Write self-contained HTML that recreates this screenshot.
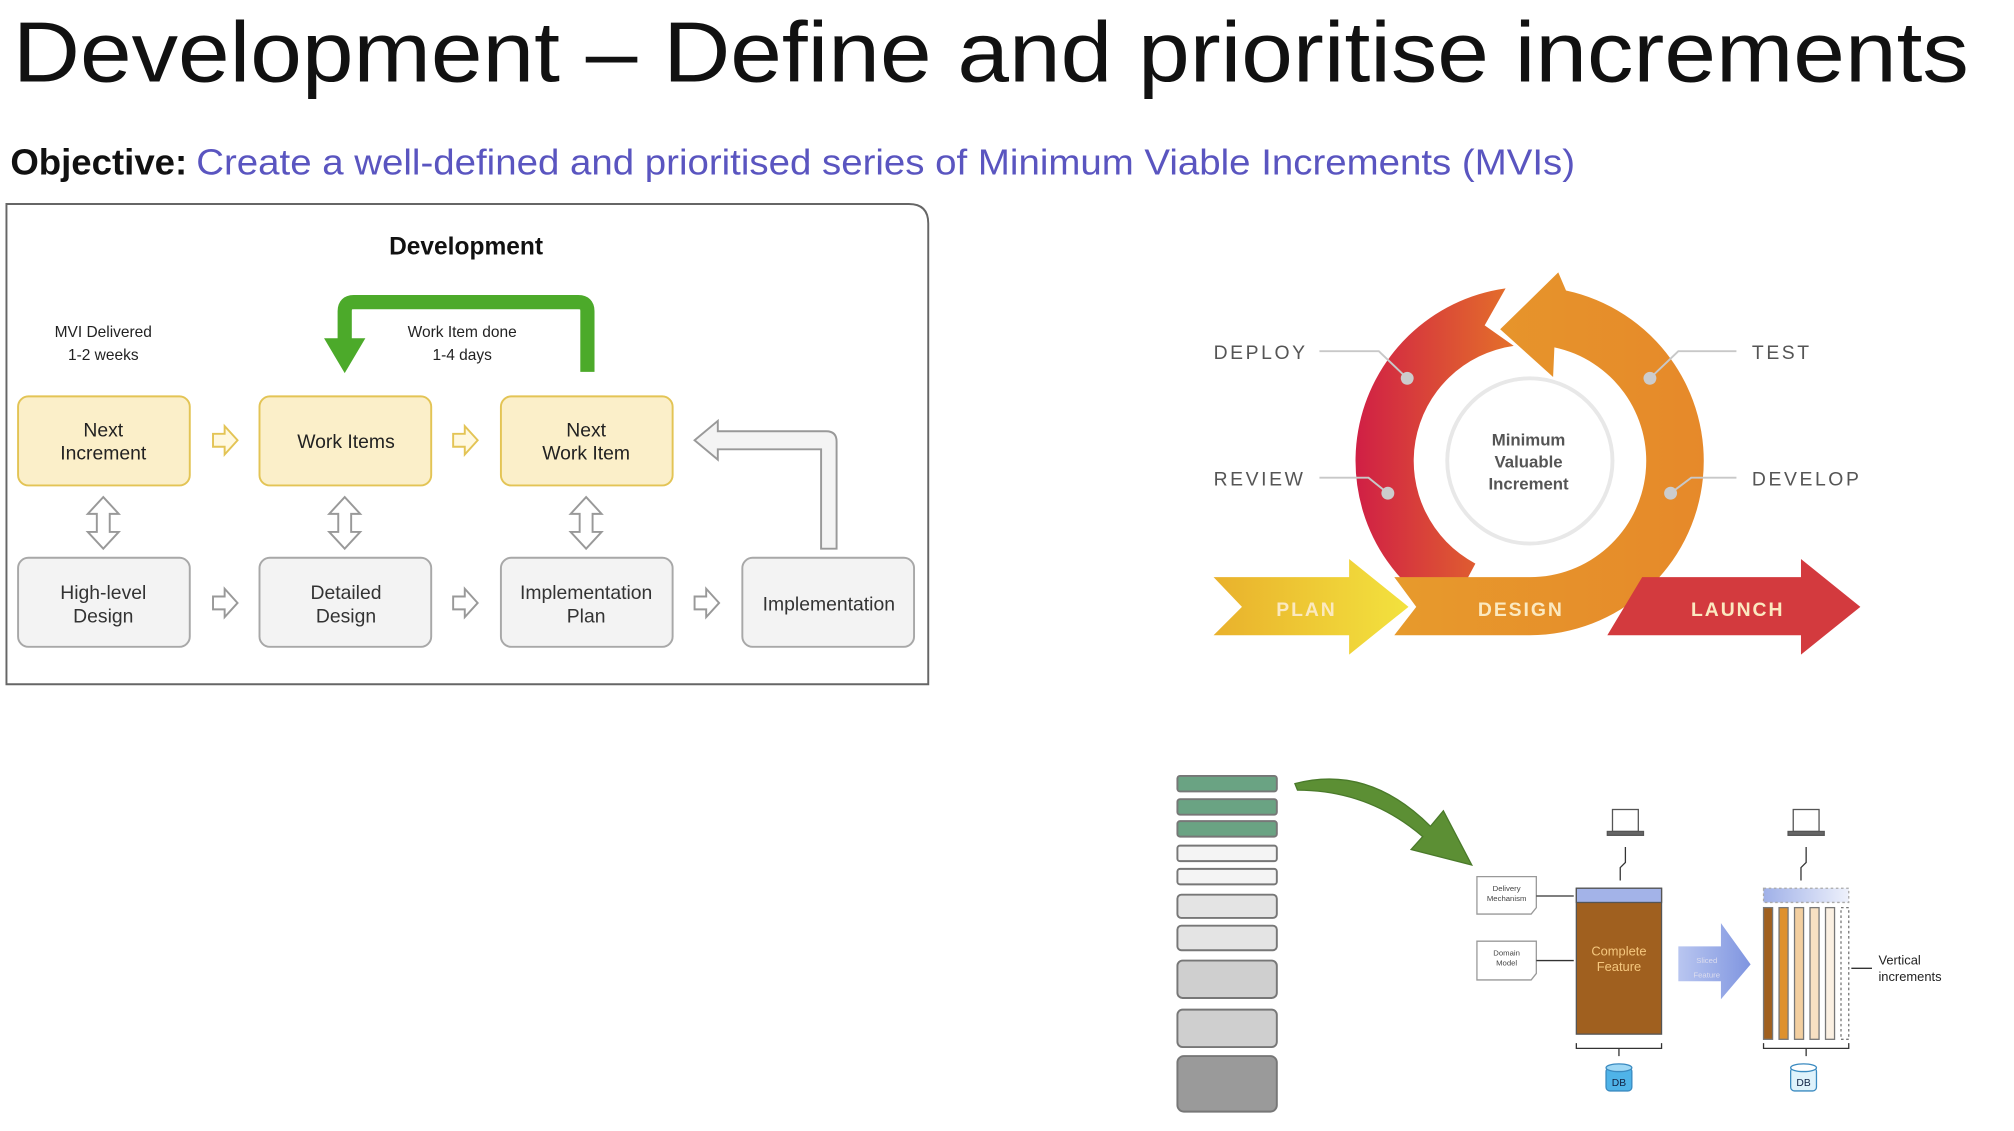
<!DOCTYPE html>
<html><head><meta charset="utf-8"><style>
html,body{margin:0;padding:0;background:#fff;}
svg{display:block;}
text{font-family:"Liberation Sans",sans-serif;}
</style></head><body>
<svg width="2014" height="1131" viewBox="0 0 1560 876" xmlns="http://www.w3.org/2000/svg">
<defs>
<linearGradient id="gl" x1="0" y1="0" x2="1" y2="0"><stop offset="0" stop-color="#d01f45"/><stop offset="1" stop-color="#e4702a"/></linearGradient>
<linearGradient id="gr" x1="0" y1="0" x2="1" y2="0"><stop offset="0" stop-color="#e79a2c"/><stop offset="1" stop-color="#e6892a"/></linearGradient>
<linearGradient id="gp" x1="0" y1="0" x2="1" y2="0"><stop offset="0" stop-color="#e9b12c"/><stop offset="1" stop-color="#f3e23e"/></linearGradient>
<linearGradient id="gb" x1="0" y1="0" x2="1" y2="0"><stop offset="0" stop-color="#9fb0e8"/><stop offset="1" stop-color="#eef1fb"/></linearGradient>
<linearGradient id="gs" x1="0" y1="0" x2="1" y2="0"><stop offset="0" stop-color="#b9c6f0"/><stop offset="1" stop-color="#7f95e0"/></linearGradient>
</defs>

<text x="10" y="63" font-size="66" fill="#111" textLength="1515" lengthAdjust="spacingAndGlyphs">Development – Define and prioritise increments</text>
<text x="8" y="135" font-size="28" font-weight="bold" fill="#111" textLength="137" lengthAdjust="spacingAndGlyphs">Objective:</text>
<text x="152" y="135" font-size="28" fill="#5a55c0" textLength="1068" lengthAdjust="spacingAndGlyphs">Create a well-defined and prioritised series of Minimum Viable Increments (MVIs)</text>

<path d="M5,158 L704,158 Q719,158 719,173 L719,530 L5,530 Z" fill="#fff" stroke="#666" stroke-width="1.5"/>
<text x="361" y="197" font-size="19" font-weight="bold" text-anchor="middle" fill="#111">Development</text>
<text x="80" y="261" font-size="12" text-anchor="middle" fill="#222">MVI Delivered</text>
<text x="80" y="279" font-size="12" text-anchor="middle" fill="#222">1-2 weeks</text>
<text x="358" y="261" font-size="12" text-anchor="middle" fill="#222">Work Item done</text>
<text x="358" y="279" font-size="12" text-anchor="middle" fill="#222">1-4 days</text>
<path d="M455,288 L455,241 Q455,234 448,234 L274,234 Q267,234 267,241 L267,264" fill="none" stroke="#4caa2a" stroke-width="11"/>
<polygon points="251,262 283,262 267,289" fill="#4caa2a"/>

<g stroke="#e3c455" stroke-width="1.5" fill="#fbefc9">
<rect x="14" y="307" width="133" height="69" rx="8"/>
<rect x="201" y="307" width="133" height="69" rx="8"/>
<rect x="388" y="307" width="133" height="69" rx="8"/>
</g>
<g stroke="#a8a8a8" stroke-width="1.5" fill="#f3f3f3">
<rect x="14" y="432" width="133" height="69" rx="8"/>
<rect x="201" y="432" width="133" height="69" rx="8"/>
<rect x="388" y="432" width="133" height="69" rx="8"/>
<rect x="575" y="432" width="133" height="69" rx="8"/>
</g>
<g font-size="15" text-anchor="middle" fill="#222">
<text x="80" y="338">Next</text><text x="80" y="356">Increment</text>
<text x="268" y="347">Work Items</text>
<text x="454" y="338">Next</text><text x="454" y="356">Work Item</text>
</g>
<g font-size="15" text-anchor="middle" fill="#333">
<text x="80" y="464">High-level</text><text x="80" y="482">Design</text>
<text x="268" y="464">Detailed</text><text x="268" y="482">Design</text>
<text x="454" y="464">Implementation</text><text x="454" y="482">Plan</text>
<text x="642" y="473">Implementation</text>
</g>
<g fill="#fff8df" stroke="#e3c455" stroke-width="1.5">
<polygon points="165,336 174,336 174,330 184,341 174,352 174,346 165,346"/>
<polygon points="351,336 360,336 360,330 370,341 360,352 360,346 351,346"/>
</g>
<g fill="#fff" stroke="#999" stroke-width="1.5">
<polygon points="165,462 174,462 174,456 184,467 174,478 174,472 165,472"/>
<polygon points="351,462 360,462 360,456 370,467 360,478 360,472 351,472"/>
<polygon points="538,462 547,462 547,456 557,467 547,478 547,472 538,472"/>
<polygon points="80,385 92,398 85,398 85,412 92,412 80,425 68,412 75,412 75,398 68,398"/>
<polygon points="267,385 279,398 272,398 272,412 279,412 267,425 255,412 262,412 262,398 255,398"/>
<polygon points="454,385 466,398 459,398 459,412 466,412 454,425 442,412 449,412 449,398 442,398"/>
<path d="M636,425 L636,348 L556,348 L556,356 L538,341 L556,326 L556,334 L640,334 Q648,334 648,342 L648,425 Z" fill="#f4f4f4"/>
</g>

<circle cx="1185" cy="357" r="64" fill="#fff" stroke="#e8e8e8" stroke-width="3"/>
<path d="M1121.6,476.2 A135,135 0 0 1 1166.2,223.3 L1150,252 L1172.5,267.9 A90,90 0 0 0 1142.8,436.5 Z" fill="url(#gl)"/>
<path d="M1213,225 L1207,211 L1162,255 L1203,292 L1204,269 A90,90 0 0 1 1185,447 L1080,447 L1097,470 L1080,492 L1185,492 A135,135 0 0 0 1213,225 Z" fill="url(#gr)"/>
<path d="M940,447 L1045,447 L1045,433 L1091,470 L1045,507 L1045,492 L940,492 L962,470 Z" fill="url(#gp)"/>
<path d="M1245,492 L1272,447 L1395,447 L1395,433 L1441,470 L1395,507 L1395,492 Z" fill="#d33a3e"/>
<g font-size="15" font-weight="bold" fill="#fbe9c0" text-anchor="middle" letter-spacing="1.5">
<text x="1012" y="477">PLAN</text><text x="1178" y="477">DESIGN</text><text x="1346" y="477">LAUNCH</text>
</g>
<g font-size="13" font-weight="bold" fill="#555" text-anchor="middle">
<text x="1184" y="345">Minimum</text><text x="1184" y="362">Valuable</text><text x="1184" y="379">Increment</text>
</g>
<g font-size="15" fill="#555" letter-spacing="2">
<text x="940" y="278">DEPLOY</text><text x="1357" y="278">TEST</text>
<text x="940" y="376">REVIEW</text><text x="1357" y="376">DEVELOP</text>
</g>
<g fill="none" stroke="#c8c8c8" stroke-width="1.5">
<polyline points="1022,272 1068,272 1090,293"/><polyline points="1345,272 1300,272 1278,293"/>
<polyline points="1022,370 1060,370 1075,382"/><polyline points="1345,370 1310,370 1294,382"/>
</g>
<g fill="#ccc"><circle cx="1090" cy="293" r="5"/><circle cx="1278" cy="293" r="5"/><circle cx="1075" cy="382" r="5"/><circle cx="1294" cy="382" r="5"/></g>

<g stroke="#777" stroke-width="1.5">
<rect x="912" y="601" width="77" height="12" rx="2" fill="#6aa383"/>
<rect x="912" y="619" width="77" height="12" rx="2" fill="#6aa383"/>
<rect x="912" y="636" width="77" height="12" rx="2" fill="#6aa383"/>
<rect x="912" y="655" width="77" height="12" rx="2" fill="#f4f4f4"/>
<rect x="912" y="673" width="77" height="12" rx="2" fill="#f4f4f4"/>
<rect x="912" y="693" width="77" height="18" rx="3" fill="#e4e4e4"/>
<rect x="912" y="717" width="77" height="19" rx="3" fill="#e4e4e4"/>
<rect x="912" y="744" width="77" height="29" rx="4" fill="#cfcfcf"/>
<rect x="912" y="782" width="77" height="29" rx="4" fill="#cfcfcf"/>
<rect x="912" y="818" width="77" height="43" rx="5" fill="#9a9a9a"/>
</g>
<path d="M1003,607 Q1060,592 1108,640 L1118,628 L1140,670 L1093,658 L1102,648 Q1060,612 1005,612 Z" fill="#5c8f34" stroke="#4a7a2a"/>

<rect x="1221" y="688" width="66" height="113" fill="#a0601f" stroke="#555"/>
<rect x="1221" y="688" width="66" height="11" fill="#a3b3e8" stroke="#555"/>
<text x="1254" y="740" font-size="10" fill="#f5c77e" text-anchor="middle">Complete</text>
<text x="1254" y="752" font-size="10" fill="#f5c77e" text-anchor="middle">Feature</text>
<g fill="#fff" stroke="#999">
<path d="M1144,679 L1190,679 L1190,703 L1186,708 L1144,708 Z"/>
<path d="M1144,729 L1190,729 L1190,754 L1186,759 L1144,759 Z"/>
</g>
<g font-size="6" fill="#444" text-anchor="middle">
<text x="1167" y="690" font-family="Liberation Serif">Delivery</text><text x="1167" y="698" font-family="Liberation Serif">Mechanism</text>
<text x="1167" y="740" font-family="Liberation Serif">Domain</text><text x="1167" y="748" font-family="Liberation Serif">Model</text>
</g>
<g stroke="#333" stroke-width="1" fill="none">
<line x1="1190" y1="694" x2="1219" y2="694"/><line x1="1190" y1="744" x2="1219" y2="744"/>
<polyline points="1259,656 1259,668 1255,672 1255,682"/>
<polyline points="1399,656 1399,668 1395,672 1395,682"/>
<path d="M1221,808 L1221,812 L1287,812 L1287,808 M1254,812 L1254,818"/>
<path d="M1366,808 L1366,812 L1432,812 L1432,808 M1399,812 L1399,818"/>
</g>
<g fill="#fff" stroke="#555">
<rect x="1249" y="627" width="20" height="17"/><rect x="1245" y="644" width="28" height="3" fill="#666"/>
<rect x="1389" y="627" width="20" height="17"/><rect x="1385" y="644" width="28" height="3" fill="#666"/>
</g>
<rect x="1366" y="688" width="66" height="11" fill="url(#gb)" stroke="#aaa" stroke-dasharray="2,2"/>
<g stroke="#777" stroke-width="1">
<rect x="1366" y="703" width="7" height="102" fill="#a0601f"/>
<rect x="1378" y="703" width="7" height="102" fill="#de912e"/>
<rect x="1390" y="703" width="7" height="102" fill="#f3cfa0"/>
<rect x="1402" y="703" width="7" height="102" fill="#f7e0c2"/>
<rect x="1414" y="703" width="7" height="102" fill="#fbf0e2"/>
<rect x="1426" y="703" width="6" height="102" fill="#fff" stroke-dasharray="2,2"/>
</g>
<path d="M1300,733 L1333,733 L1333,715 L1356,747 L1333,774 L1333,760 L1300,760 Z" fill="url(#gs)"/>
<text x="1322" y="746" font-size="6" fill="#dde" text-anchor="middle">Sliced</text>
<text x="1322" y="757" font-size="6" fill="#dde" text-anchor="middle">Feature</text>
<line x1="1434" y1="750" x2="1450" y2="750" stroke="#333"/>
<text x="1455" y="747" font-size="10" fill="#222">Vertical</text>
<text x="1455" y="760" font-size="10" fill="#222">increments</text>
<g stroke="#3a8ac0">
<rect x="1244" y="827" width="20" height="18" rx="3" fill="#4fb3e8"/><ellipse cx="1254" cy="827" rx="10" ry="3" fill="#9fd8f5"/>
<rect x="1387" y="827" width="20" height="18" rx="3" fill="#dff2fb"/><ellipse cx="1397" cy="827" rx="10" ry="3" fill="#fff"/>
</g>
<text x="1254" y="841" font-size="8" fill="#124" text-anchor="middle">DB</text>
<text x="1397" y="841" font-size="8" fill="#124" text-anchor="middle">DB</text>
</svg>
</body></html>
